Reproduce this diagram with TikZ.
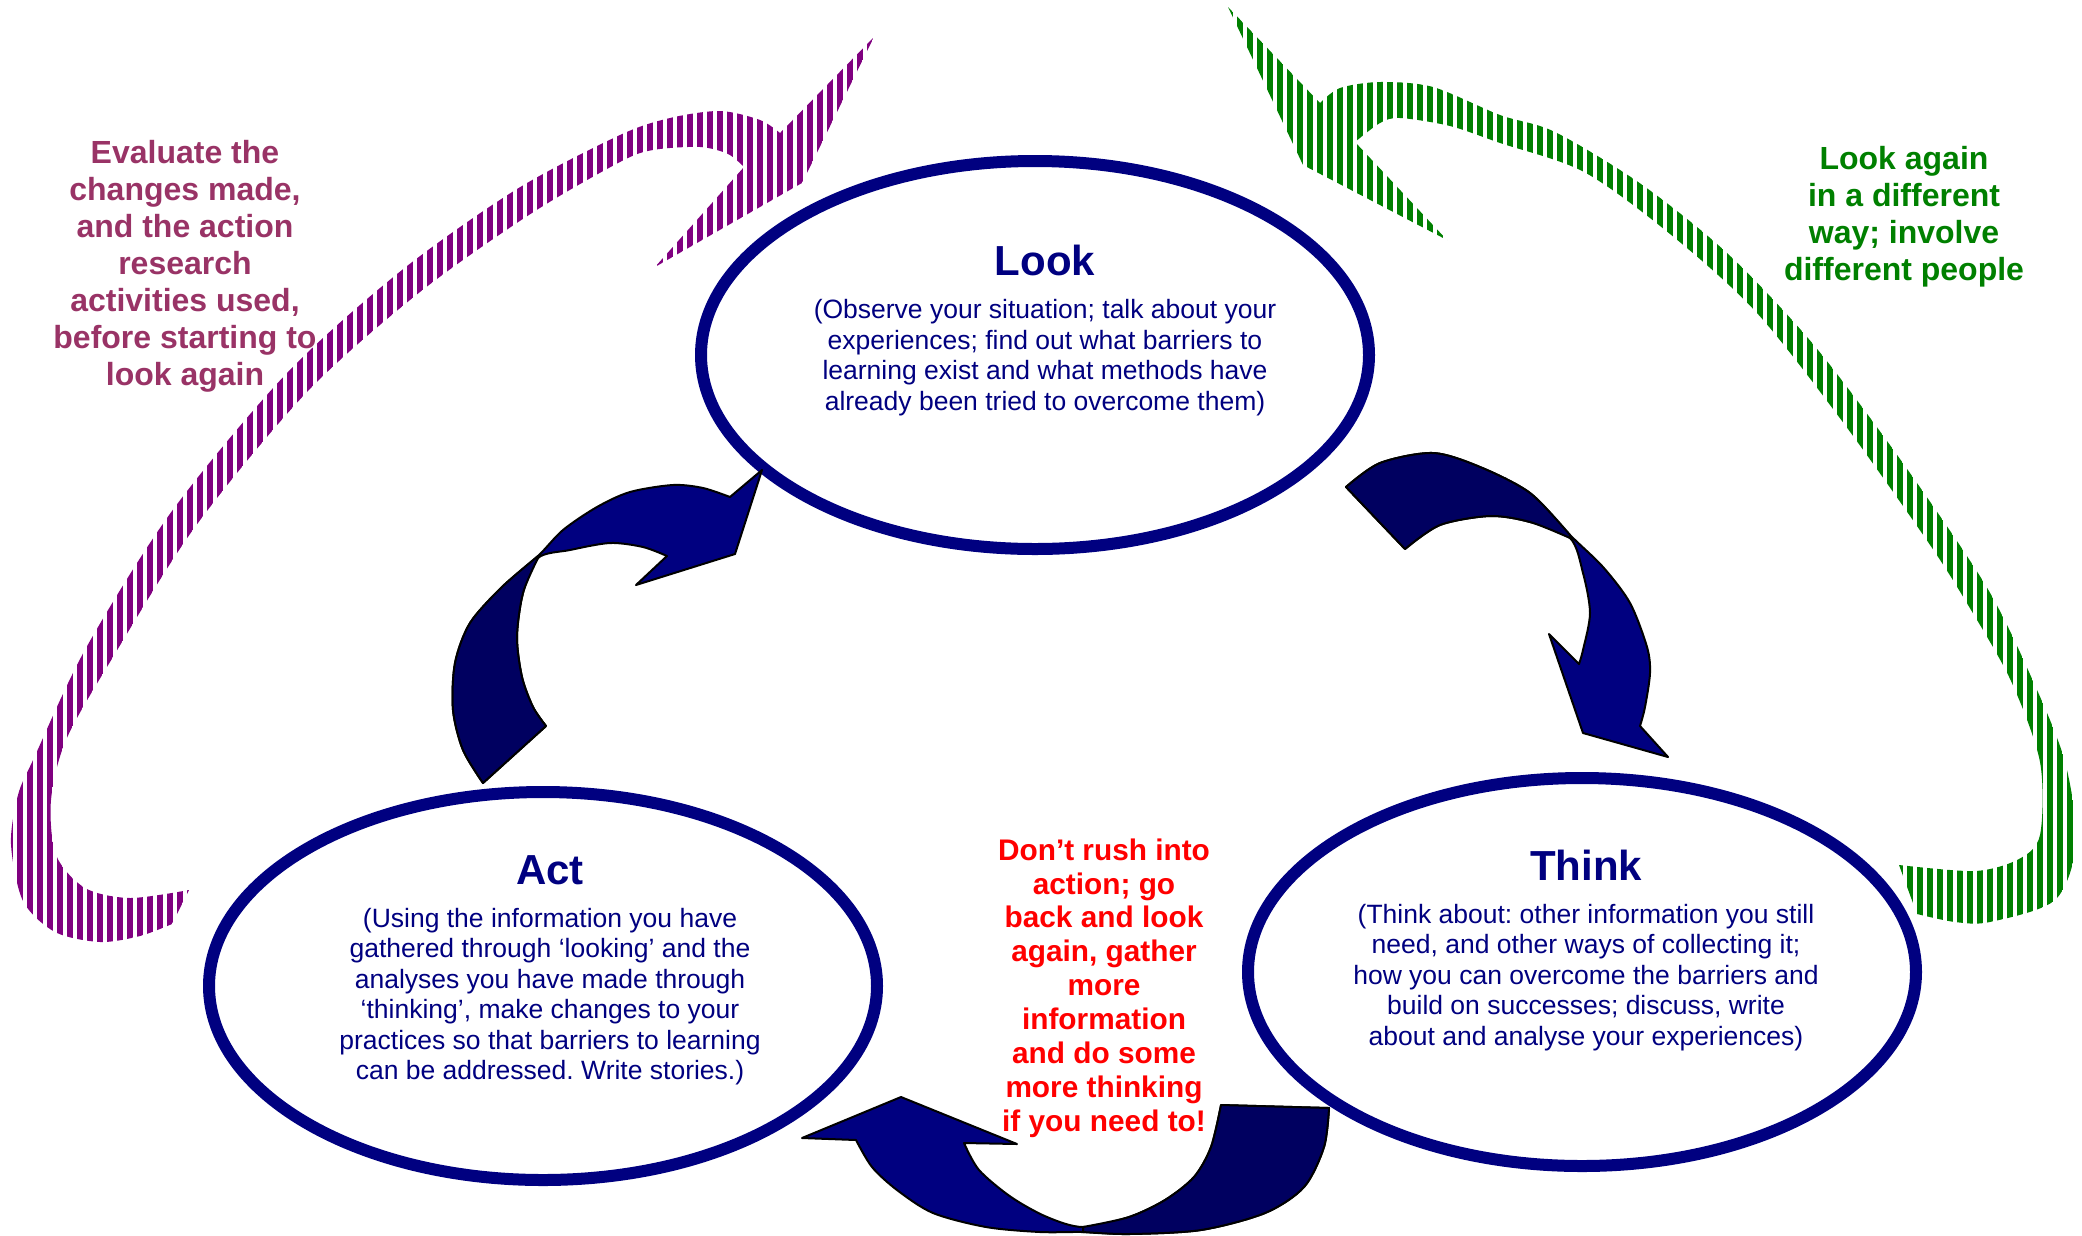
\documentclass[tikz,border=0pt]{standalone}
\usepackage{fontspec}
\setmainfont{Liberation Sans}
\frenchspacing
\usetikzlibrary{shapes.geometric,positioning,patterns.meta}

\definecolor{cyclenavy}{RGB}{0,0,128}
\definecolor{cycledark}{RGB}{0,0,96}
\definecolor{evalpurple}{RGB}{153,51,102}
\definecolor{stripepurple}{RGB}{128,0,128}
\definecolor{againgreen}{RGB}{0,128,0}
\definecolor{rushred}{RGB}{255,0,0}

\tikzset{
  phase/.style={ellipse, draw=cyclenavy, line width=12pt, minimum width=668pt, minimum height=388pt, inner sep=0pt},
  phasetitle/.style={text=cyclenavy, font=\fontsize{42}{48}\selectfont\bfseries, inner sep=0pt},
  phasetext/.style={text=cyclenavy, align=center, font=\fontsize{26.5}{30.5}\selectfont, inner sep=0pt},
  sidenote/.style={align=center, font=\fontsize{32}{37}\selectfont\bfseries, inner sep=0pt},
  rushnote/.style={align=center, text=rushred, font=\fontsize{29.8}{33.9}\selectfont\bfseries, inner sep=0pt},
  turnarrow/.style={fill=cyclenavy, draw=black, line width=2pt, line join=round},
  turnback/.style={fill=cycledark, draw=black, line width=2pt, line join=round},
  stripes/.style={pattern={Lines[angle=90,distance=10pt,line width=5.5pt]}, pattern color=#1}
}

\begin{document}
\begin{tikzpicture}[x=1pt,y=-1pt]
    \useasboundingbox[fill=white] (0,0) rectangle (2082,1235);

    \fill[stripes=stripepurple] (874,37) -- (802,183) -- (655,267) -- (744,167)
        -- plot[smooth] coordinates {(744,167) (728,154) (700,147) (653,150) (620,162) (532,213) (420,292) (307,392) (195,527) (110,662) (66,740) (51,800) (56,855) (85,888) (130,898) (189,890)}
        -- (172,924)
        -- plot[smooth] coordinates {(172,924) (140,936) (100,942) (55,932) (23,901) (11,844) (18,795) (34,758) (86,648) (172,511) (287,373) (402,270) (517,189) (620,135) (670,118) (720,111) (760,120) (780,133)}
        -- cycle;
    \fill[stripes=againgreen] (1228,7) -- (1303,165) -- (1447,240) -- (1355,142)
        -- plot[smooth] coordinates {(1355,142) (1380,123) (1400,118) (1450,126) (1500,143) (1584,172) (1670,234) (1756,312) (1842,421) (1928,542) (1968,605) (2011,681) (2040,762) (2040,835) (2019,859) (1975,871) (1899,865)}
        -- (1917,914)
        -- plot[smooth] coordinates {(1917,914) (1955,922) (1990,922) (2055,900) (2076,843) (2065,762) (2033,681) (1986,586) (1900,459) (1813,344) (1727,253) (1641,184) (1555,132) (1500,115) (1433,87) (1380,82) (1340,88) (1320,103)}
        -- cycle;

    \node[phase] (look) at (1035,355) {};
    \node[phase] (act) at (543,986) {};
    \node[phase] (think) at (1582,972) {};

    \draw[turnarrow] (483,783)
        -- plot[smooth] coordinates {(483,783) (463,750) (453,710) (455,663) (470,623) (502,587) (538,556) (563,530) (597,507) (630,492) (673,485) (703,488) (730,497)}
        -- (762,470) -- (735,554) -- (636,585) -- (667,556)
        -- plot[smooth] coordinates {(667,556) (643,547) (610,543) (570,550) (538,558) (523,593) (517,637) (522,677) (533,707) (546,726)}
        -- cycle;
    \draw[turnback] plot[smooth] coordinates {(483,783) (463,750) (453,710) (455,663) (470,623) (502,587) (538,556)}
        -- plot[smooth] coordinates {(538,558) (523,593) (517,637) (522,677) (533,707) (546,726)} -- cycle;

    \draw[turnarrow] (1346,487)
        -- plot[smooth] coordinates {(1346,487) (1380,463) (1433,453) (1480,467) (1530,493) (1570,535) (1603,567) (1630,603) (1647,647) (1650,673) (1645,707) (1640,726)}
        -- (1668,757) -- (1583,733) -- (1549,634) -- (1579,664)
        -- plot[smooth] coordinates {(1579,664) (1583,650) (1590,613) (1583,573) (1570,538) (1530,522) (1490,516) (1440,525) (1405,549)}
        -- cycle;
    \draw[turnback] plot[smooth] coordinates {(1346,487) (1380,463) (1433,453) (1480,467) (1530,493) (1570,535)}
        -- plot[smooth] coordinates {(1570,538) (1530,522) (1490,516) (1440,525) (1405,549)} -- cycle;

    \draw[turnarrow] (1329,1108)
        -- plot[smooth] coordinates {(1329,1108) (1324,1147) (1304,1187) (1265,1213) (1201,1230) (1129,1234) (1083,1232) (1040,1232) (986,1227) (933,1213) (897,1190) (872,1167) (856,1140)}
        -- (802,1138) -- (901,1097) -- (1017,1144) -- (964,1143)
        -- plot[smooth] coordinates {(964,1143) (979,1170) (1011,1197) (1047,1217) (1083,1227) (1129,1217) (1165,1200) (1194,1177) (1211,1147) (1221,1105)}
        -- cycle;
    \draw[turnback] plot[smooth] coordinates {(1329,1108) (1324,1147) (1304,1187) (1265,1213) (1201,1230) (1129,1234) (1083,1232)}
        -- plot[smooth] coordinates {(1083,1227) (1129,1217) (1165,1200) (1194,1177) (1211,1147) (1221,1105)} -- cycle;

    \node[phasetext] (looktext) at ([xshift=10pt,yshift=-2.5pt]look.center) {(Observe your situation; talk about your\\experiences; find out what barriers to\\learning exist and what methods have\\already been tried to overcome them)};
    \node[phasetitle, above=23pt of looktext] (looktitle) {Look};
    \node[phasetext] (acttext) at ([xshift=7pt,yshift=-10.5pt]act.center) {(Using the information you have\\gathered through ‘looking’ and the\\analyses you have made through\\‘thinking’, make changes to your\\practices so that barriers to learning\\can be addressed. Write stories.)};
    \node[phasetitle, above=23pt of acttext] (acttitle) {Act};
    \node[phasetext] (thinktext) at ([xshift=4pt,yshift=-5.5pt]think.center) {(Think about: other information you still\\need, and other ways of collecting it;\\how you can overcome the barriers and\\build on successes; discuss, write\\about and analyse your experiences)};
    \node[phasetitle, above=23pt of thinktext] (thinktitle) {Think};

    \node[sidenote, text=evalpurple] (evaluate) at (185,266) {Evaluate the\\changes made,\\and the action\\research\\activities used,\\before starting to\\look again};
    \node[sidenote, text=againgreen] (lookagain) at (1904,217) {Look again\\in a different\\way; involve\\different people};
    \node[rushnote] (rush) at (1104,988) {Don’t rush into\\action; go\\back and look\\again, gather\\more\\information\\and do some\\more thinking\\if you need to!};
\end{tikzpicture}
\end{document}
